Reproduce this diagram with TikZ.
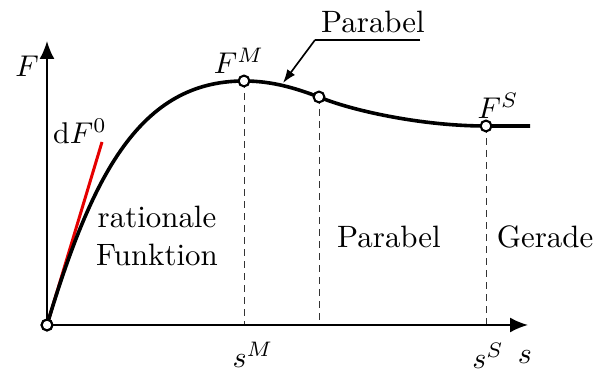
\documentclass[tikz,border=0pt]{standalone}
\usetikzlibrary{arrows.meta}
\begin{document}
\begin{tikzpicture}[x=0.3333pt,y=-0.3333pt,
  every node/.append style={font=\fontsize{10.3pt}{12.5pt}\selectfont},
  axis/.style={line width=0.65pt,-{Latex[length=6pt,width=5pt]}},
  curve/.style={line width=1.2pt},
  guide/.style={line width=0.3pt,black!80,dash pattern=on 2.4pt off 1.6pt},
  marker/.style={circle,draw,fill=white,line width=0.7pt,inner sep=0pt,minimum size=3.6pt},
  lbl/.style={inner sep=0pt},
  callout/.style={line width=0.55pt}]
\useasboundingbox (0,0) rectangle (595,372);
% points
\node[marker] (O) at (47,325) {};
\coordinate (yend) at (47,41);
\coordinate (xend) at (528,325);
\coordinate (FMp) at (244,81);
\coordinate (Pp) at (319,97);
\coordinate (FSp) at (486,126);
\coordinate (cend) at (530,126);
\coordinate (sM) at (244,325);
\coordinate (sP) at (319,325);
\coordinate (sS) at (486,325);
\coordinate (redend) at (102,142);
% dashed guides
\draw[guide] (FMp) -- (sM);
\draw[guide] (Pp) -- (sP);
\draw[guide] (FSp) -- (sS);
% axes
\draw[axis] (O) -- (yend);
\draw[axis] (O) -- (xend);
% tangent
\draw[red!90!black,line width=1pt] (O.center) -- (redend);
% curve
\draw[curve] (O.center) .. controls (92,175) and (140,81) .. (FMp)
  .. controls (272,81) and (295,88) .. (Pp)
  .. controls (350,110) and (420,126) .. (FSp) -- (cend);
\node[marker] (FM) at (FMp) {};
\node[marker] (P) at (Pp) {};
\node[marker] (FS) at (FSp) {};
\node[marker] (O2) at (O) {};
% labels
\node[lbl] (lF) at (27,66) {$F$};
\node[lbl] (lS) at (525,357) {$s$};
\node[lbl] (ldF) at (80,131) {$\mathrm{d}F^0$};
\node[lbl] (lFM) at (239,61) {$F^M$};
\node[lbl] (lFS) at (498,106) {$F^S$};
\node[lbl] (lsM) at (253,355) {$s^M$};
\node[lbl] (lsS) at (488,356) {$s^S$};
\node[lbl,align=center] (lrat) at (157,236) {rationale\\Funktion};
\node[lbl] (lpar) at (389,237) {Parabel};
\node[lbl] (lger) at (545,237) {Gerade};
% callout
\node[lbl] (cp) at (373,22) {Parabel};
\coordinate (ulR) at (420,40);
\coordinate (ulL) at (315,40);
\coordinate (tip) at (283,83);
\draw[callout] (ulR) -- (ulL);
\draw[callout,-{Latex[length=4.5pt,width=3.2pt]}] (ulL) -- (tip);
\end{tikzpicture}
\end{document}
